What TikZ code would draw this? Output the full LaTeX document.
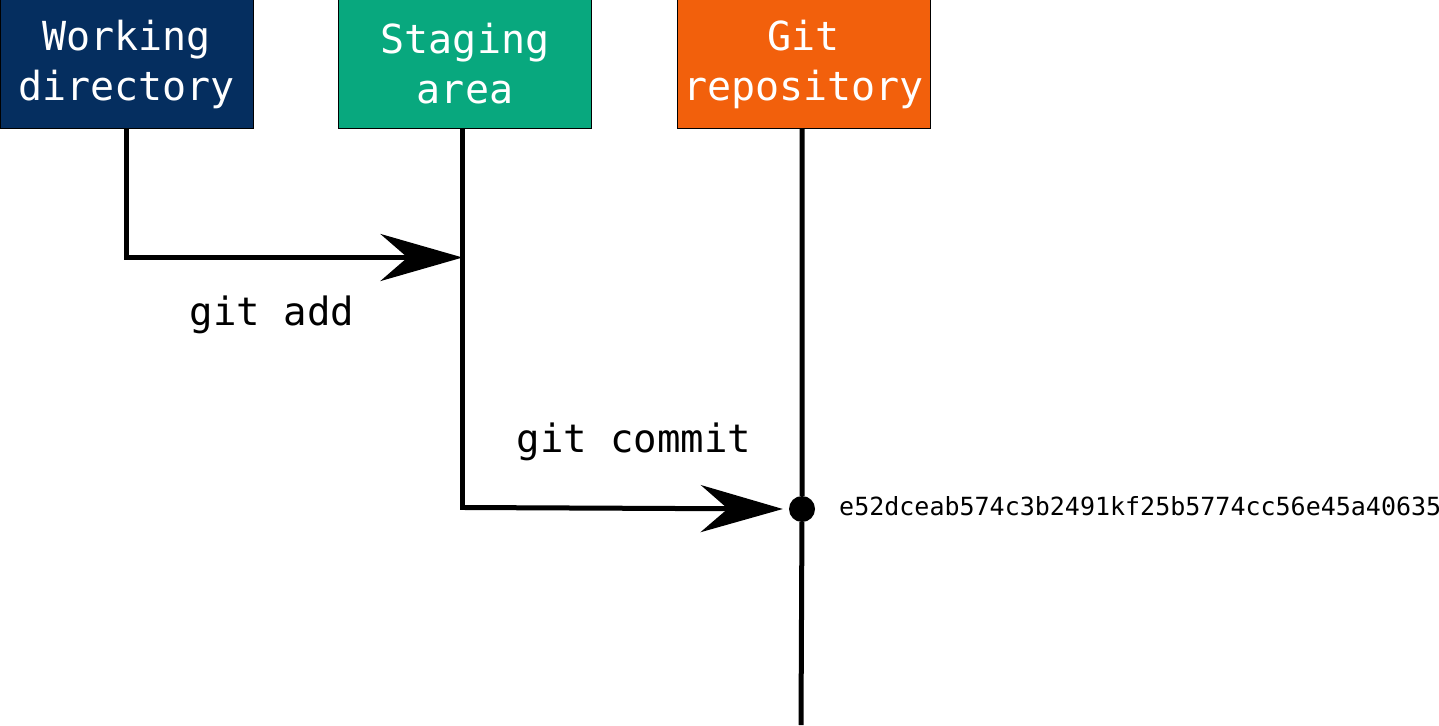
\documentclass[tikz,border=0pt]{standalone}
\usepackage{fontspec}
\setmonofont{DejaVu Sans Mono}
\usetikzlibrary{arrows.meta}
\definecolor{wdblue}{RGB}{5,46,95}
\definecolor{sagreen}{RGB}{8,168,126}
\definecolor{grorange}{RGB}{242,96,12}
\begin{document}
\begin{tikzpicture}[x=1pt,y=-1pt,>={Stealth[length=82pt,width=47pt,inset=27pt]},
		box/.style={draw=black,line width=1pt,minimum width=253pt,minimum height=128pt,inner sep=0pt,
			text=white,align=center,font=\ttfamily\fontsize{40}{50}\selectfont},
		flow/.style={line width=5pt},
		cmd/.style={font=\ttfamily\fontsize{39}{39}\selectfont,inner sep=0pt}]
	\useasboundingbox (0,0) rectangle (1439,725);
	% areas
	\node[box,fill=wdblue] (wd) at (126.5,64) {Working\\directory};
	\node[box,fill=sagreen] (sa) at (465,64) {Staging\\area};
	\node[box,fill=grorange] (gr) at (803.5,64) {Git\\repository};
	% time lines
	\coordinate (sa-add) at (462.5,257.5);
	\coordinate (sa-end) at (462.5,510);
	\coordinate (gr-end) at (801,725);
	\node[circle,fill=black,inner sep=0pt,minimum size=26pt] (commit) at (802,509) {};
	\draw[flow] (sa.south-|sa-add) -- (sa-end);
	\draw[flow] (gr.south-|commit) -- (commit) -- (gr-end);
	\draw[flow,->] (wd.south) |- (sa-add);
	\draw[flow,->] (465,507.5) -- ([xshift=-6pt]commit.west);
	% labels
	\node[cmd] (add) at (272,315) {git add};
	\node[cmd] (cmt) at (634,442) {git commit};
	\node[anchor=west,inner sep=0pt,font=\ttfamily\fontsize{25}{25}\selectfont] (hash) at (839,506) {e52dceab574c3b2491kf25b5774cc56e45a40635};
\end{tikzpicture}
\end{document}
